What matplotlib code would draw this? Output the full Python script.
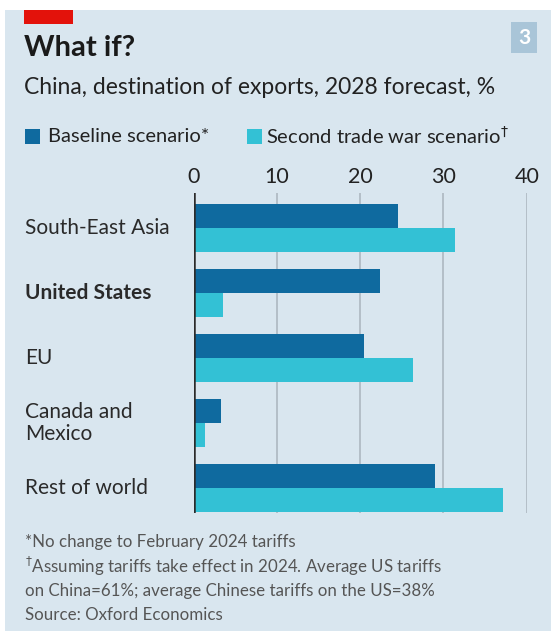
import matplotlib.pyplot as plt
import numpy as np
from matplotlib.patches import Rectangle

# China's export destinations, 2028 forecast, %
regions = ['South-East Asia', 'United States', 'EU', 'Canada and\nMexico', 'Rest of world']
baseline = [24.6, 22.4, 20.4, 3.3, 29.0]
trade_war = [31.4, 3.5, 26.4, 1.3, 37.2]
xticks = [0, 10, 20, 30, 40]

BG = '#d9e6ef'
DARK = '#0f6a9f'
CYAN = '#33c1d5'
FONT = 'Lato'

W, H = 551, 631
fig = plt.figure(figsize=(W / 100, H / 100), dpi=100, facecolor='white')


def fx(px):
    return px / W


def fy(py):
    return 1 - py / H


# panel background and red tag
fig.patches.append(Rectangle((fx(5), 0), 1 - fx(5), fy(10), transform=fig.transFigure,
                             facecolor=BG, edgecolor='none', zorder=-2))
fig.patches.append(Rectangle((fx(24), fy(24)), fx(49), 14 / H, transform=fig.transFigure,
                             facecolor='#e3120b', edgecolor='none', zorder=-1))

# chart number box
fig.patches.append(Rectangle((fx(511), fy(53)), fx(26), 31 / H, transform=fig.transFigure,
                             facecolor='#a9c5d8', edgecolor='none', zorder=-1))
fig.text(fx(524), fy(38), '3', color='white', fontsize=15, fontweight='bold',
         family=FONT, ha='center', va='center')

fig.text(fx(24), fy(48), 'What if?', fontsize=21, fontweight='bold', family=FONT,
         color='#1a1a1a', ha='left', va='center')
fig.text(fx(24), fy(88), 'China, destination of exports, 2028 forecast, %', fontsize=16.5,
         family=FONT, color='#222222', ha='left', va='center')

# legend
fig.patches.append(Rectangle((fx(25), fy(144)), fx(15), 15 / H, transform=fig.transFigure,
                             facecolor=DARK, edgecolor='none', zorder=-1))
fig.text(fx(48), fy(136), 'Baseline scenario*', fontsize=14.5, family=FONT,
         color='#222222', ha='left', va='center')
fig.patches.append(Rectangle((fx(247), fy(144)), fx(15), 15 / H, transform=fig.transFigure,
                             facecolor=CYAN, edgecolor='none', zorder=-1))
fig.text(fx(266), fy(136), 'Second trade war scenario$^{\\dagger}$', fontsize=14.5, family=FONT,
         color='#222222', ha='left', va='center')

ax = fig.add_axes([fx(193.7), fy(513), fx(333), 320 / H])
ax.set_facecolor('none')
ax.set_zorder(2)

y = np.arange(len(regions))
h = 0.37
ax.barh(y - h / 2, baseline, height=h, color=DARK, zorder=3)
ax.barh(y + h / 2, trade_war, height=h, color=CYAN, zorder=3)

ax.set_xlim(0, 40)
ax.set_ylim(4.385, -0.538)
ax.set_xticks(xticks)
ax.set_xticklabels([str(t) for t in xticks], family=FONT, fontsize=15.5, color='#222222')
ax.xaxis.tick_top()
ax.tick_params(axis='x', length=0, pad=4)
ax.set_yticks([])
for t in xticks[1:]:
    ax.axvline(t, color='#b3bec7', linewidth=1.4, zorder=1)
ax.axvline(0, color='#2b2b2b', linewidth=1.8, zorder=4)
for s in ax.spines.values():
    s.set_visible(False)

# category labels, left aligned in the panel
for i, name in enumerate(regions):
    weight = 'bold' if name == 'United States' else 'normal'
    fig.text(fx(25), fy(228 + 65 * i), name, fontsize=15, family=FONT, fontweight=weight,
             color='#2a2a2a', ha='left', va='center', linespacing=1.1)

notes = [
    '*No change to February 2024 tariffs',
    '$^{\\dagger}$Assuming tariffs take effect in 2024. Average US tariffs',
    'on China=61%; average Chinese tariffs on the US=38%',
    'Source: Oxford Economics',
]
for i, line in enumerate(notes):
    fig.text(fx(25), fy(542 + 24.5 * i), line, fontsize=12.2, family=FONT,
             color='#555555', ha='left', va='center')

fig.savefig('out.png', dpi=100, facecolor='white')
